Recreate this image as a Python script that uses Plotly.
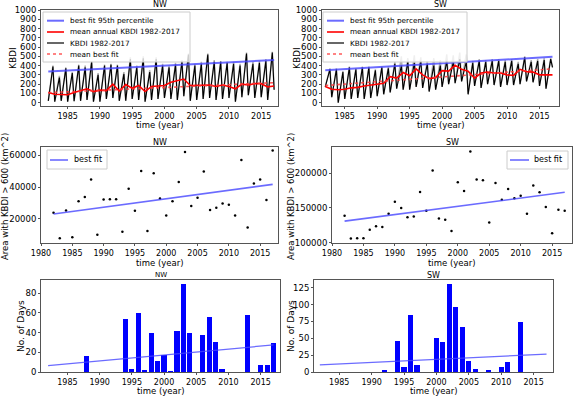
import plotly.graph_objects as go

W, H = 575, 397

years = list(range(1982, 2018))
cycle_years = list(range(1982, 2017))

# --- top row: KBDI daily-like series (per-year winter low and summer peak) ---
nw_low = [20, 10, 20, 10, 15, 20, 30, 10, 10, 40, 50, 20, 20, 40, 30, 10, 30, 40, 50, 40,
          30, 70, 20, 30, 40, 50, 30, 40, 50, 10, 60, 80, 50, 60, 30, 140]
nw_peak = [390, 270, 370, 320, 400, 380, 440, 300, 400, 410, 400, 310, 470, 380, 480, 330,
           470, 400, 380, 410, 450, 520, 400, 420, 520, 440, 440, 430, 420, 400, 530, 420,
           430, 450, 540]
nw_peak_gray = [400, 290, 380, 330, 410, 400, 450, 320, 410, 420, 410, 330, 490, 400, 500, 350,
                490, 420, 400, 430, 460, 530, 420, 440, 530, 460, 450, 440, 440, 420, 540, 440,
                450, 470, 550]
nw_mean = [110, 90, 88, 85, 110, 130, 150, 120, 135, 130, 200, 125, 195, 155, 185, 120, 175,
           180, 185, 220, 235, 255, 185, 185, 190, 190, 175, 190, 175, 150, 200, 190, 205,
           205, 170, 180]
nw_fit95 = [335, 460]
nw_meanfit = [108, 216]

sw_low = [170, 60, 0, 40, 40, 50, 40, 50, 70, 90, 110, 150, 140, 140, 170, 160, 120, 140, 170,
          200, 210, 230, 90, 180, 160, 200, 190, 170, 190, 190, 200, 230, 220, 180, 150, 380]
sw_peak = [360, 360, 330, 380, 360, 380, 380, 350, 380, 370, 420, 400, 440, 430, 450, 420,
           400, 400, 450, 440, 470, 440, 430, 450, 440, 450, 450, 440, 450, 420, 490, 440,
           450, 460, 470]
sw_peak_gray = [370, 370, 340, 390, 370, 390, 390, 360, 390, 390, 440, 500, 480, 510, 490, 450,
                480, 460, 520, 510, 540, 520, 450, 470, 460, 470, 470, 460, 470, 440, 500, 460,
                470, 480, 480]
sw_mean = [175, 145, 140, 145, 160, 165, 180, 190, 200, 210, 280, 265, 325, 290, 365, 300, 260,
           270, 345, 340, 405, 360, 340, 265, 320, 330, 320, 320, 300, 295, 360, 335, 330,
           300, 300, 300]
sw_fit95 = [350, 495]
sw_meanfit = [185, 365]

# --- middle row: area with KBDI > 600 ---
nw_area = [23800, 7700, 25300, 8300, 31100, 33800, 44700, 10000, 32100, 32300, 32300, 11900,
           38900, 25100, 50200, 12300, 48700, 32800, 22100, 31100, 43200, 62100, 28100, 33200,
           49800, 25500, 27000, 29600, 28900, 22100, 57000, 14500, 42300, 44700, 31900, 63000]
nw_area_fit = [23000, 41700]
sw_area = [138600, 105800, 106300, 106300, 118400, 123700, 122700, 141500, 158900, 149800,
           136700, 137700, 172900, 145900, 203800, 134800, 132800, 116900, 186900, 174400,
           231400, 190800, 189800, 129000, 186000, 161800, 177300, 163800, 167600, 141500,
           182100, 172500, 151200, 113500, 147300, 145900]
sw_area_fit = [131000, 172500]

# --- bottom row: number of days ---
nw_bar_years = [1988, 1994, 1995, 1996, 1997, 1998, 1999, 2000, 2001, 2002, 2003, 2004, 2006,
                2007, 2008, 2009, 2013, 2015, 2016, 2017]
nw_days = [16, 54, 3, 60, 2, 40, 11, 17, 1, 42, 89, 40, 38, 56, 30, 3, 58, 7, 7, 29]
nw_days_fit = [6.5, 27.5]
sw_bar_years = [1992, 1994, 1995, 1996, 1997, 2000, 2001, 2002, 2003, 2004, 2005, 2006, 2008,
                2010, 2011, 2013]
sw_days = [2, 46, 7, 84, 11, 50, 45, 130, 97, 67, 17, 4, 2, 8, 15, 74]
sw_days_fit = [10.5, 26.5]

fit_x = [1982, 2017]

FONT = "DejaVu Sans"
BLUE = "rgba(70,70,255,0.8)"
RED = "red"
RED_DOT = "rgba(255,60,60,0.85)"


def series(lows, peaks):
    xs, ys = [], []
    for i, yr in enumerate(cycle_years):
        xs += [yr, yr + 0.72]
        ys += [lows[i], peaks[i]]
    xs.append(2017)
    ys.append(lows[-1])
    return xs, ys


def px(x):
    return x / W


def py(y):
    return 1 - y / H


fig = go.Figure()

# axis boxes in pixels: (left, right, top, bottom)
boxes = {
    1: (41, 278, 10, 106), 2: (322, 559, 10, 106),
    3: (41, 278, 147, 243), 4: (332, 572, 147, 243),
    5: (41, 280, 280, 372), 6: (314, 553, 280, 372),
}


def ax(n):
    return ("x" if n == 1 else f"x{n}"), ("y" if n == 1 else f"y{n}")


# top panels
for n, low, peak, gray, mean, fit95, meanfit in [
        (1, nw_low, nw_peak, nw_peak_gray, nw_mean, nw_fit95, nw_meanfit),
        (2, sw_low, sw_peak, sw_peak_gray, sw_mean, sw_fit95, sw_meanfit)]:
    xa, ya = ax(n)
    gx, gy = series(low, gray)
    bx, by = series(low, peak)
    fig.add_trace(go.Scatter(x=gx, y=gy, mode="lines", line=dict(color="#b0b0b0", width=1.5),
                             xaxis=xa, yaxis=ya))
    fig.add_trace(go.Scatter(x=bx, y=by, mode="lines", line=dict(color="black", width=1.1),
                             xaxis=xa, yaxis=ya))
    fig.add_trace(go.Scatter(x=fit_x, y=fit95, mode="lines", line=dict(color=BLUE, width=2),
                             xaxis=xa, yaxis=ya))
    fig.add_trace(go.Scatter(x=years, y=mean, mode="lines", line=dict(color=RED, width=1.6),
                             xaxis=xa, yaxis=ya))
    fig.add_trace(go.Scatter(x=fit_x, y=meanfit, mode="lines",
                             line=dict(color=RED_DOT, width=1.6, dash="dot"),
                             xaxis=xa, yaxis=ya))

# middle panels
for n, vals, fit in [(3, nw_area, nw_area_fit), (4, sw_area, sw_area_fit)]:
    xa, ya = ax(n)
    fig.add_trace(go.Scatter(x=years, y=vals, mode="markers", marker=dict(color="black", size=2.5),
                             xaxis=xa, yaxis=ya))
    fig.add_trace(go.Scatter(x=fit_x, y=fit, mode="lines", line=dict(color=BLUE, width=1.6),
                             xaxis=xa, yaxis=ya))

# bottom panels
for n, bx, vals, fit in [(5, nw_bar_years, nw_days, nw_days_fit), (6, sw_bar_years, sw_days, sw_days_fit)]:
    xa, ya = ax(n)
    fig.add_trace(go.Bar(x=bx, y=vals, width=0.8, marker=dict(color="blue", line_width=0),
                         xaxis=xa, yaxis=ya))
    fig.add_trace(go.Scatter(x=fit_x, y=fit, mode="lines", line=dict(color=BLUE, width=1.2),
                             xaxis=xa, yaxis=ya))

xranges = {1: [1980.87, 2017.6], 2: [1981.5, 2018.0], 3: [1980.0, 2017.85],
           4: [1980.0, 2018.16], 5: [1980.9, 2018.0], 6: [1981.1, 2018.0]}
yranges = {1: [-36, 1000], 2: [-36, 1000], 3: [4750, 65250], 4: [99500, 237700],
           5: [0, 93.45], 6: [0, 136.5]}
xticks = {1: list(range(1985, 2016, 5)), 2: list(range(1985, 2016, 5)),
          3: list(range(1980, 2016, 5)), 4: list(range(1980, 2016, 5)),
          5: list(range(1985, 2016, 5)), 6: list(range(1985, 2016, 5))}
yticks = {1: list(range(0, 1001, 100)), 2: list(range(0, 1001, 100)),
          3: [20000, 40000, 60000], 4: [100000, 150000, 200000],
          5: [0, 20, 40, 60, 80], 6: [0, 25, 50, 75, 100, 125]}

layout = dict(
    width=W, height=H, margin=dict(l=0, r=0, t=0, b=0),
    paper_bgcolor="white", plot_bgcolor="white", showlegend=False,
    font=dict(family=FONT, size=8.5, color="black"),
    bargap=0,
)
for n, (l, r, t, b) in boxes.items():
    sx = "xaxis" if n == 1 else f"xaxis{n}"
    sy = "yaxis" if n == 1 else f"yaxis{n}"
    xa, ya = ax(n)
    common = dict(showgrid=False, zeroline=False, showline=True, linecolor="#555", linewidth=1,
                  mirror=True, ticks="outside", ticklen=2, tickcolor="#555", automargin=False,
                  tickformat="d")
    layout[sx] = dict(common, domain=[px(l), px(r)], range=xranges[n], tickvals=xticks[n],
                      anchor=ya, tickfont=dict(size=8))
    layout[sy] = dict(common, domain=[py(b), py(t)], range=yranges[n], tickvals=yticks[n],
                      anchor=xa, tickfont=dict(size=8.5))

fig.update_layout(**layout)


def text(txt, x, y, size, angle=0, anchor="center"):
    fig.add_annotation(text=txt, x=px(x), y=py(y), xref="paper", yref="paper", showarrow=False,
                       font=dict(size=size), xanchor=anchor, yanchor="middle", textangle=angle)


# subplot titles
for n, txt, ypx, fs in [(1, "NW", 5, 8), (2, "SW", 5, 8), (3, "NW", 143, 8), (4, "SW", 143, 8),
                        (5, "NW", 275, 7), (6, "SW", 275, 8)]:
    l, r, t, b = boxes[n]
    text(txt, (l + r) / 2, ypx, fs)

# axis titles
for n, ypx in [(1, 125), (2, 125), (3, 263), (4, 263), (5, 391), (6, 391)]:
    l, r, t, b = boxes[n]
    text("time (year)", (l + r) / 2, ypx, 8.5)
for xpx, ypx, txt, fs in [(13, 58, "KBDI", 9), (297, 58, "KBDI", 9),
                          (5, 197, "Area with KBDI > 600 (km^2)", 8.5),
                          (291, 197, "Area with KBDI > 600 (km^2)", 8.5),
                          (21, 326, "No. of Days", 9), (291, 326, "No. of Days", 9)]:
    text(txt, xpx, ypx, fs, angle=-90)


# legends drawn as a framed box with line samples
def legend(box, entries, sym_x, text_x, size):
    l, t, r, b = box
    fig.add_shape(type="rect", xref="paper", yref="paper", x0=px(l), x1=px(r), y0=py(b), y1=py(t),
                  line=dict(color="#cccccc", width=1), fillcolor="rgba(255,255,255,0.8)", layer="above")
    for ypx, label, color, dash, width in entries:
        fig.add_shape(type="line", xref="paper", yref="paper", x0=px(sym_x[0]), x1=px(sym_x[1]),
                      y0=py(ypx), y1=py(ypx), line=dict(color=color, width=width, dash=dash), layer="above")
        text(label, text_x, ypx, size, anchor="left")


top_entries = [("best fit 95th percentile", BLUE, "solid", 2),
               ("mean annual KBDI 1982-2017", RED, "solid", 1.6),
               ("KBDI 1982-2017", "black", "solid", 1.2),
               ("mean best fit", RED_DOT, "dot", 1.6)]
rows_y = [20.7, 32, 43, 54]
legend((43, 12, 190, 62), [(y,) + e for y, e in zip(rows_y, top_entries)], (47, 64), 68, 7.3)
legend((323, 12, 467, 62), [(y,) + e for y, e in zip(rows_y, top_entries)], (327, 344), 348, 7.3)
legend((47, 150, 107, 169), [(160, "best fit", BLUE, "solid", 1.6)], (50, 68), 72, 8)
legend((507, 151, 568, 169), [(160, "best fit", BLUE, "solid", 1.6)], (510, 529), 532, 8)

# the page body has a default margin; drop it so the figure sits at the window's corner
fig.write_html("out.html", config={"displayModeBar": False},
               post_script="document.body.style.margin='0px';")
